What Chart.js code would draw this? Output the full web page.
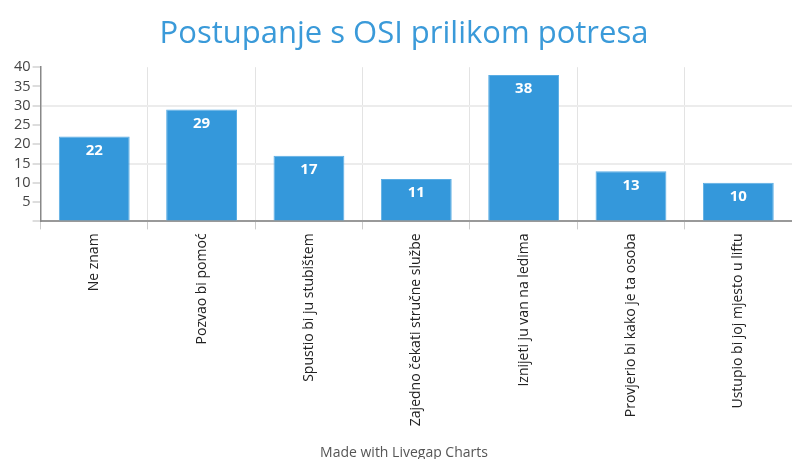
<!DOCTYPE html>
<html>
<head>
<meta charset="utf-8">
<script src="https://cdn.jsdelivr.net/npm/chart.js@4"></script>
<style>
  html, body { margin: 0; padding: 0; background: #fff; }
  #wrap { width: 792px; height: 459px; }
</style>
</head>
<body>
<div id="wrap"><canvas id="barChart"></canvas></div>
<script>
const categories = ['Ne znam', 'Pozvao bi pomoć', 'Spustio bi ju stubištem', 'Zajedno čekati stručne službe',
    'Iznijeti ju van na ledima', 'Provjerio bi kako je ta osoba', 'Ustupio bi joj mjesto u liftu'];
const values = [22, 29, 17, 11, 38, 13, 10];
const gridValues = [15, 30];

// white value labels inside the top of each bar
const barLabels = {
    id: 'barLabels',
    afterDatasetsDraw(chart) {
        const ctx = chart.ctx;
        const meta = chart.getDatasetMeta(0);
        ctx.save();
        ctx.font = 'bold 15px "Open Sans"';
        ctx.fillStyle = '#fff';
        ctx.textAlign = 'center';
        ctx.textBaseline = 'middle';
        meta.data.forEach((bar, i) => {
            ctx.fillText(values[i], bar.x, bar.y + 14);
        });
        ctx.restore();
    }
};

const barCtx = document.getElementById('barChart');
new Chart(barCtx, {
    type: 'bar',
    data: {
        labels: categories,
        datasets: [{
            label: 'Postupanje',
            data: values,
            backgroundColor: '#3498db',
            borderColor: '#5aade4',
            borderWidth: 1,
            categoryPercentage: 1,
            barPercentage: 0.66
        }]
    },
    plugins: [barLabels],
    options: {
        responsive: true,
        maintainAspectRatio: false,
        animation: false,
        layout: { padding: { left: 12, right: -4, top: 0, bottom: 0 } },
        plugins: {
            legend: { display: false },
            tooltip: { enabled: false },
            title: {
                display: true,
                text: 'Postupanje s OSI prilikom potresa',
                color: '#3a9ad9',
                font: { family: 'Open Sans', size: 31, weight: 'normal' },
                padding: { top: 16, bottom: 14 }
            },
            subtitle: {
                display: true,
                position: 'bottom',
                text: 'Made with Livegap Charts',
                color: '#555',
                font: { family: 'Open Sans', size: 14 },
                padding: { top: 14, bottom: -2 }
            }
        },
        scales: {
            x: {
                grid: {
                    color: '#e3e3e3',
                    tickColor: '#ccc',
                    tickLength: 8
                },
                border: { color: '#999', width: 2 },
                ticks: {
                    color: '#222',
                    font: { family: 'Open Sans', size: 14 },
                    maxRotation: 90,
                    minRotation: 90,
                    padding: 4
                }
            },
            y: {
                min: 0,
                max: 40,
                grid: {
                    color: c => gridValues.includes(c.tick.value) ? '#ececec' : 'rgba(0,0,0,0)',
                    lineWidth: 2,
                    tickColor: '#ddd',
                    tickLength: 8
                },
                border: { color: '#888', width: 1.5 },
                ticks: {
                    stepSize: 5,
                    autoSkip: false,
                    color: '#444',
                    font: { family: 'Open Sans', size: 14.5 },
                    padding: 2,
                    callback: v => v === 0 ? '' : v
                }
            }
        }
    }
});
</script>
</body>
</html>
